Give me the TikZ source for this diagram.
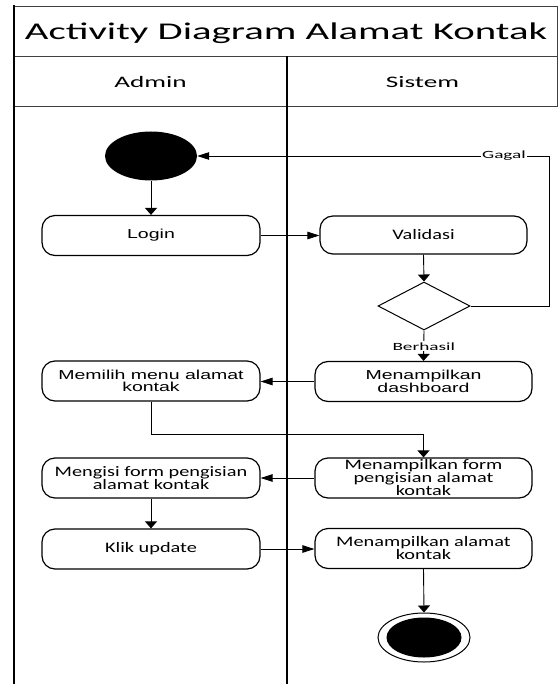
\documentclass[tikz,border=0pt]{standalone}
\usepackage{fontspec}
\usetikzlibrary{shapes.geometric,arrows.meta}
\newfontfamily\ttlf{Carlito}[FakeStretch=1.7]
\newfontfamily\hdrf{Carlito}[FakeStretch=1.7]
\newfontfamily\calf{Carlito}[FakeStretch=1.4]
\newfontfamily\arf{Liberation Sans}[FakeStretch=1.5]
\newfontfamily\labf{Carlito}[FakeStretch=1.75]
\begin{document}
\begin{tikzpicture}[x=1pt,y=-1pt,
  act/.style={draw,rounded corners=13pt,line width=1.2pt,align=center,inner sep=0pt,minimum height=40pt},
  lbox/.style={act,minimum width=218pt},
  rbox/.style={act,minimum width=217pt},
  cal/.style={font=\calf\fontsize{14.5}{13}\selectfont},
  ari/.style={font=\arf\fontsize{13}{12.5}\selectfont},
  conn/.style={line width=0.9pt},
  varr/.style={conn,-{Triangle[length=7pt,width=12pt]}},
  harr/.style={conn,-{Triangle[length=12pt,width=7.5pt]}},
  lab/.style={font=\labf\fontsize{11}{12}\selectfont,fill=white,inner sep=1pt},
  framel/.style={line width=2.4pt},
  thinl/.style={line width=0.9pt,draw=black!75}]
\useasboundingbox (0,0) rectangle (558,684);
% frame
\draw[thinl] (14,6) -- (557.5,6);
\draw[thinl] (14,56) -- (558,56);
\draw[thinl] (14,106) -- (558,106);
\draw[thinl] (557.5,6) -- (557.5,106);
\draw[framel] (14,5.5) -- (14,684);
\draw[framel] (287,56) -- (287,684);
\node[font=\ttlf\fontsize{24}{26}\selectfont,anchor=base,inner sep=0] (title) at (286,40) {Activity Diagram Alamat Kontak};
\node[font=\hdrf\fontsize{16}{18}\selectfont,anchor=base,inner sep=0] (admin) at (150.5,88) {Admin};
\node[font=\hdrf\fontsize{16}{18}\selectfont,anchor=base,inner sep=0] (sistem) at (422.5,88) {Sistem};
% nodes
\node[ellipse,fill=black,minimum width=92pt,minimum height=49pt,inner sep=0] (start) at (151,156) {};
\node[lbox,ari] (login) at (151,235.5) {Login};
\node[act,cal,minimum width=207pt,minimum height=38pt] (valid) at (423.5,235) {Validasi};
\node[diamond,draw,line width=1pt,minimum width=92pt,minimum height=48pt,inner sep=0] (dec) at (424,306) {};
\node[rbox,ari] (dash) at (423.5,381.5) {Menampilkan\\dashboard};
\node[lbox,ari] (memilih) at (151,381) {Memilih menu alamat\\kontak};
\node[rbox,cal] (form) at (423.5,478) {Menampilkan form\\pengisian alamat\\kontak};
\node[lbox,cal] (mengisi) at (151,478) {Mengisi form pengisian\\alamat kontak};
\node[lbox,cal] (klik) at (151,549) {Klik update};
\node[rbox,cal] (tampil) at (423.5,548.5) {Menampilkan alamat\\kontak};
\node[ellipse,draw,line width=1pt,minimum width=92pt,minimum height=49pt,inner sep=0] (endo) at (424,637.5) {};
\node[ellipse,fill=black,minimum width=75pt,minimum height=40pt,inner sep=0] (endi) at (endo) {};
\coordinate (g) at (549,156);
% connectors
\draw[varr] (start.south) -- (login.north);
\draw[harr] (login.east) -- (login.east -| valid.west);
\draw[varr] (valid.south) -- (dec.north);
\draw[harr] (dec.east) -| (g) -- node[lab,pos=0.128]{Gagal} (start.east);
\draw[varr] (dec.south) -- node[lab,pos=0.52]{Berhasil} (dash.north);
\draw[harr] (dash.west) -- (memilih.east |- dash.west);
\draw[varr] (memilih.south) -- ++(0,33) -| (form.north);
\draw[harr] (form.west) -- (mengisi.east |- form.west);
\draw[varr] (mengisi.south) -- (klik.north);
\draw[harr] (klik.east) -- (tampil.west |- klik.east);
\draw[varr] (tampil.south) -- (endo.north);
\end{tikzpicture}
\end{document}
